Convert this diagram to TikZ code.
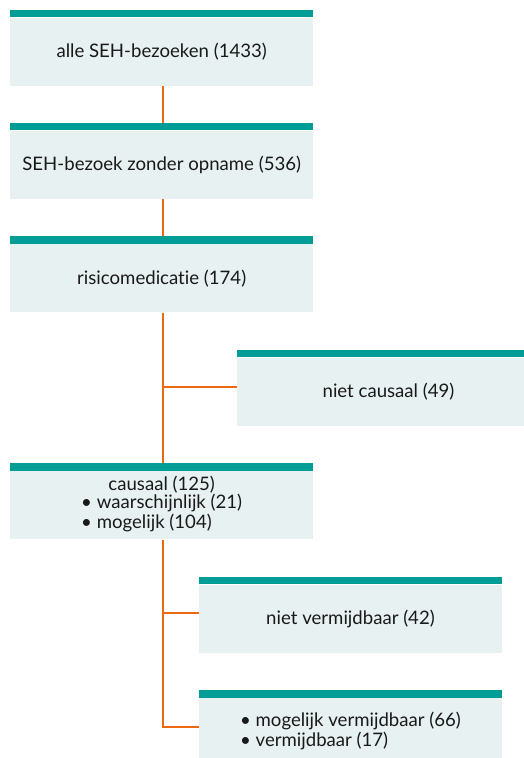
\documentclass[tikz,border=0pt]{standalone}
\usepackage{fontspec}
\setmainfont{Lato}[Ligatures={NoCommon,NoRare}]
\usetikzlibrary{backgrounds}
\definecolor{barteal}{RGB}{0,156,150}
\definecolor{boxfill}{RGB}{232,241,242}
\definecolor{linkorange}{RGB}{238,104,18}
\definecolor{textgray}{RGB}{25,25,25}
\tikzset{
  box/.style={fill=boxfill, minimum width=303pt, minimum height=68pt, inner sep=0pt,
    align=center, text=textgray, font={\fontsize{18.6}{20}\selectfont},
    label={[fill=barteal, minimum width=303pt, minimum height=7.7pt, inner sep=0pt,
      anchor=south, label distance=0pt]north:{}}},
  link/.style={draw=linkorange, line width=2.4pt}
}
\begin{document}
\begin{tikzpicture}[x=1pt,y=-1pt]
\useasboundingbox (0,0) rectangle (524,758);
\begin{scope}
\clip (0,0) rectangle (524,758);
\node[box] (b1) at (161.7,51.7) {alle SEH-bezoeken (1433)};
\node[box] (b2) at (161.7,164.7) {SEH-bezoek zonder opname (536)};
\node[box] (b3) at (161.7,278.4) {risicomedicat\kern0pt ie (174)};
\node[box] (b4) at (388.5,391.7) {niet causaal (49)};
\node[box] (b5) at (161.7,505.4) {causaal (125)\\
  \begin{tabular}{@{}l@{}}• waarschijnlijk (21)\\ • mogelijk (104)\end{tabular}};
\node[box] (b6) at (350.5,618.8) {niet vermijdbaar (42)};
\node[box] (b7) at (350.5,732) {\begin{tabular}{@{}l@{}}• mogelijk vermijdbaar (66)\\ • vermijdbaar (17)\end{tabular}};
\begin{scope}[on background layer]
\draw[link] ([xshift=1.3pt]b1.south) -- ([xshift=1.3pt,yshift=7.7pt]b2.north);
\draw[link] ([xshift=1.3pt]b2.south) -- ([xshift=1.3pt,yshift=7.7pt]b3.north);
\draw[link] ([xshift=1.3pt]b3.south) -- ([xshift=1.3pt,yshift=7.7pt]b5.north);
\draw[link] ([yshift=5pt]b4.west) -- ([yshift=5pt,xshift=1.3pt]b4.west -| b3.south);
\draw[link] ([xshift=1.3pt]b5.south) |- ([yshift=5pt]b7.west);
\draw[link] ([yshift=5.8pt]b6.west) -- ([yshift=5.8pt,xshift=1.3pt]b6.west -| b5.south);
\end{scope}
\end{scope}
\end{tikzpicture}
\end{document}
